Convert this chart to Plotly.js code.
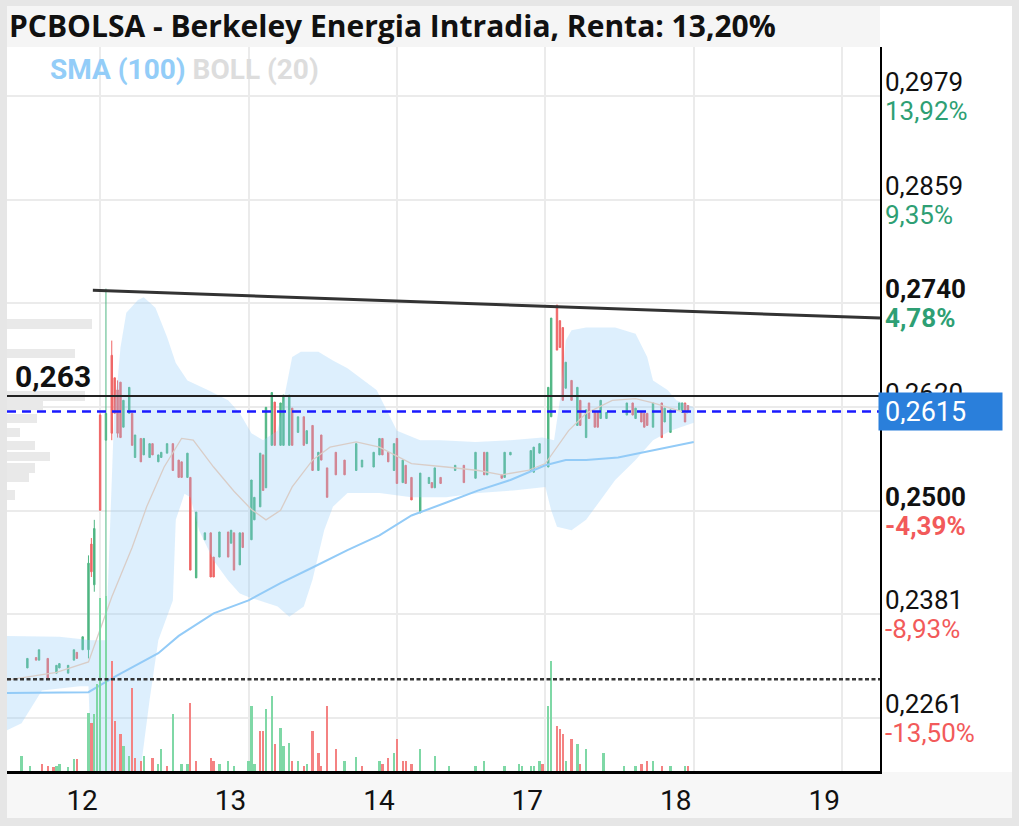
<!DOCTYPE html>
<html><head><meta charset="utf-8">
<script src="https://cdn.plot.ly/plotly-3.0.1.min.js"></script>
<style>html,body{margin:0;padding:0;background:#fff;}#chart{width:1019px;height:826px;}</style>
</head><body><div id="chart"></div>
<script>
// ---- DATA (time = 10-minute slot index, 0 = open of day 12; prices in 1/10000 EUR) ----
const dayStart  = [0, 51, 102, 153, 204, 255];
const dayLabels = ['12', '13', '14', '17', '18', '19'];

const slot   = [-25,-22,-21,-18,-15,-14,-11,-9,-8,-6,-4,-3,-2,0,2,4,5,6,7,8,10,11,12,14,15,17,18,20,21,23,25,27,28,30,31,33,36,38,39,41,44,45,46,48,49,52,53,55,56,57,59,60,62,63,65,66,68,70,71,73,75,76,78,81,84,88,90,94,96,97,99,101,102,104,105,107,110,113,114,115,117,122,125,129,132,133,138,139,141,148,149,151,154,155,157,158,159,160,162,164,165,167,168,170,171,172,174,181,183,184,186,187,188,190,193,194,196,199,200,201,202];
const openP  = [2319,2331,2328,2330,2313,2319,2313,2328,2337,2340,2340,2462,2415,2611,2582,2680,2654,2640,2649,2597,2613,2613,2562,2584,2565,2562,2578,2557,2562,2567,2578,2559,2557,2539,2539,2423,2467,2475,2447,2447,2476,2463,2475,2438,2475,2467,2490,2505,2565,2527,2576,2626,2576,2576,2576,2619,2591,2609,2578,2599,2547,2588,2550,2568,2559,2547,2551,2551,2565,2584,2568,2547,2584,2533,2553,2539,2498,2532,2533,2527,2539,2547,2553,2538,2568,2542,2542,2539,2565,2547,2545,2567,2551,2609,2738,2720,2712,2642,2651,2599,2628,2585,2625,2614,2614,2607,2607,2611,2625,2607,2614,2613,2613,2597,2625,2603,2591,2617,2614,2625,2622];
const highP  = [2330,2331,2340,2330,2322,2324,2322,2340,2337,2355,2449,2469,2490,2613,2757,2697,2654,2651,2649,2628,2643,2613,2588,2584,2584,2578,2578,2565,2568,2578,2578,2559,2557,2567,2539,2499,2475,2475,2447,2476,2476,2478,2475,2475,2475,2536,2516,2567,2565,2620,2637,2626,2625,2634,2634,2619,2609,2609,2593,2599,2568,2588,2550,2568,2559,2578,2559,2568,2584,2584,2568,2578,2584,2559,2553,2539,2544,2539,2533,2550,2539,2553,2553,2568,2568,2568,2542,2568,2568,2570,2574,2578,2643,2723,2738,2720,2712,2672,2651,2643,2628,2617,2625,2614,2614,2628,2614,2625,2625,2619,2614,2613,2613,2625,2625,2619,2617,2625,2625,2625,2622];
const lowP   = [2319,2328,2328,2307,2313,2319,2313,2328,2330,2340,2330,2424,2407,2501,2397,2582,2613,2585,2585,2597,2613,2576,2562,2557,2565,2562,2565,2557,2562,2567,2547,2539,2539,2539,2432,2423,2467,2424,2424,2447,2447,2463,2432,2438,2458,2467,2490,2505,2524,2527,2576,2576,2576,2576,2576,2576,2591,2576,2578,2547,2547,2559,2516,2542,2542,2547,2551,2551,2565,2565,2557,2547,2532,2533,2532,2513,2498,2532,2527,2527,2532,2547,2533,2538,2542,2542,2538,2539,2565,2547,2545,2567,2551,2609,2686,2689,2628,2642,2628,2599,2599,2585,2607,2597,2597,2607,2607,2611,2611,2607,2603,2597,2599,2597,2585,2603,2591,2617,2614,2603,2615];
const closeP = [2330,2328,2340,2307,2322,2324,2322,2340,2330,2355,2440,2430,2480,2501,2613,2590,2613,2590,2585,2628,2643,2576,2588,2557,2584,2578,2565,2565,2568,2578,2547,2539,2539,2567,2432,2499,2475,2424,2424,2476,2447,2478,2432,2475,2458,2536,2516,2567,2524,2620,2637,2576,2625,2634,2634,2576,2609,2576,2593,2547,2568,2559,2516,2542,2542,2578,2559,2568,2584,2565,2557,2578,2532,2559,2532,2513,2544,2539,2527,2550,2532,2553,2533,2568,2542,2568,2538,2568,2568,2570,2574,2578,2643,2723,2686,2689,2628,2672,2628,2643,2599,2617,2607,2597,2597,2628,2614,2625,2611,2619,2603,2597,2599,2625,2585,2619,2617,2625,2625,2603,2615];

// volume (relative units), slot and direction (1 = up, 0 = down)
const volSlot = [-27,-24,-20,-18,-16,-15,-14,-11,-9,-8,-4,-3,-2,-1,0,2,4,5,7,8,10,11,12,14,15,18,20,21,23,25,28,30,31,33,38,39,41,44,46,51,52,53,55,56,57,59,60,62,63,65,66,68,70,71,73,75,76,78,81,84,88,90,96,97,99,101,102,104,105,107,110,115,120,129,132,139,144,145,148,149,151,152,154,155,157,158,159,160,162,164,165,167,173,180,184,186,188,190,193,196,201,202];
const volume  = [15,5,7,5,4,5,7,4,12,12,58,48,57,87,173,175,110,50,37,25,15,83,13,10,15,13,7,22,5,57,7,7,68,10,13,10,7,10,5,10,65,7,40,40,62,75,27,43,25,28,10,10,5,7,40,18,5,65,22,10,14,5,10,7,13,18,32,10,10,7,22,15,5,5,10,5,7,5,5,5,10,7,65,110,45,42,37,10,32,27,7,22,18,5,5,7,10,10,5,5,5,5];
const volUp   = [1,1,0,0,0,1,1,1,1,0,1,0,1,1,1,1,0,0,0,1,1,0,0,0,1,0,1,1,0,1,1,1,0,0,0,0,1,1,1,1,1,1,0,0,1,1,0,1,1,1,0,1,0,1,0,0,0,0,0,1,1,0,1,0,0,1,0,0,0,0,1,1,1,1,1,1,1,1,1,1,1,0,1,1,0,0,0,1,0,1,0,1,1,1,1,0,0,1,0,1,1,0];

// Bollinger (20) upper / lower / middle, SMA (100)
const bandUpSlot = [-32,-14,-3,2,3,4,5,6,7,9,13,15,19,23,26,30,37,44,48,52,56,61,63,66,69,75,80,85,95,102,110,117,129,141,152,156,158,160,162,167,177,184,188,190,195,198,204];
const bandUp     = [2356,2355,2351,2351,2443,2547,2628,2651,2689,2729,2744,2747,2735,2701,2671,2651,2640,2628,2613,2590,2582,2593,2628,2678,2684,2684,2674,2665,2640,2593,2582,2582,2580,2582,2585,2582,2628,2697,2709,2712,2712,2705,2678,2651,2640,2628,2620];
const bandLoSlot = [-32,-27,-20,-7,-4,-3,0,5,10,14,17,20,25,26,29,31,34,39,44,48,51,61,65,70,73,77,80,85,96,107,119,130,142,153,155,157,162,167,172,177,184,190,196,204];
const bandLo     = [2247,2255,2293,2298,2298,2201,2120,2080,2100,2201,2282,2351,2397,2490,2520,2516,2478,2443,2420,2405,2401,2390,2378,2390,2421,2478,2505,2521,2521,2516,2516,2521,2524,2528,2501,2482,2478,2490,2513,2536,2559,2582,2593,2602];
const midSlot = [-32,-15,-4,4,11,16,22,26,28,32,39,46,52,57,62,66,73,79,88,96,107,119,130,138,147,153,161,167,176,184,190,202];
const mid     = [2305,2314,2326,2401,2458,2505,2551,2574,2584,2582,2551,2523,2502,2490,2501,2528,2559,2574,2580,2574,2555,2551,2547,2542,2547,2555,2593,2613,2628,2630,2625,2613];
const smaSlot = [-32,-4,4,20,27,39,51,62,73,85,96,107,119,130,141,153,160,167,178,190,204];
const sma     = [2290,2291,2307,2336,2356,2382,2397,2417,2435,2455,2472,2495,2510,2524,2536,2553,2559,2559,2562,2570,2580];

// volume-at-price profile (left)
const profPrice = [2716,2682,2633,2622,2607,2591,2576,2563,2550,2539,2519];
const profVol   = [85,68,78,36,30,13,28,43,28,22,8];

// right-axis levels (the percentage of the level under the last-price box is hidden, as in the source)
const tickPrice = [2979,2859,2740,2620,2500,2381,2261];
const tickPct   = ['13,92%','9,35%','4,78%','0,19%','-4,39%','-8,93%','-13,50%'];
const tickBold  = [false,false,true,false,true,false,false];

// drawn levels
const lastPrice   = 2615;
const levelPrice  = 2633;   // "0,263"
const dottedPrice = 2306;
const trendX = [-2.5, 268];
const trendY = [2755, 2723];

const titleText = 'PCBOLSA - Berkeley Energia Intradia, Renta: 13,20%';

// ---- helpers ----
const P = a => a.map(v => v / 10000);
const fmt = v => (v / 10000).toFixed(4).replace('.', ',');
const GREEN = '#4fb683', RED = '#ef6666';
const VGREEN = '#7fd8a6', VRED = '#f48282';
const FONT = 'Roboto, "Noto Sans", sans-serif';

// frame geometry (pixels -> paper)
const L = 7, R = 880, T = 47, B = 771;
const pxX = x => (x - L) / (R - L);
const pxY = y => (B - y) / (B - T);

const bandX = bandUpSlot.concat(bandLoSlot.slice().reverse());
const bandY = P(bandUp).concat(P(bandLo).slice().reverse());

const traces = [
  { type: 'scatter', x: bandX, y: bandY, fill: 'toself', fillcolor: 'rgba(144,202,249,0.30)',
    line: { width: 0 }, mode: 'lines', hoverinfo: 'skip', showlegend: false },
  { type: 'scatter', x: midSlot, y: P(mid), mode: 'lines', line: { color: '#d9cdc7', width: 1.3 },
    hoverinfo: 'skip', showlegend: false },
  { type: 'scatter', x: smaSlot, y: P(sma), mode: 'lines', line: { color: '#93cbf7', width: 2 },
    hoverinfo: 'skip', showlegend: false },
  { type: 'candlestick', x: slot, open: P(openP), high: P(highP), low: P(lowP), close: P(closeP),
    increasing: { line: { color: GREEN, width: 1 }, fillcolor: GREEN },
    decreasing: { line: { color: RED, width: 1 }, fillcolor: RED },
    whiskerwidth: 0, showlegend: false },
  { type: 'bar', x: volSlot, y: volume, yaxis: 'y2', width: 0.8,
    marker: { color: volUp.map(u => u ? VGREEN : VRED), line: { width: 0 } }, showlegend: false },
  { type: 'bar', orientation: 'h', x: profVol, y: P(profPrice), xaxis: 'x3', width: 0.0011,
    marker: { color: '#e9e9e9', line: { width: 0 } }, showlegend: false }
];

const annotations = [];
tickPrice.forEach((p, i) => {
  const b = tickBold[i];
  const pctColor = tickPct[i].startsWith('-') ? '#f25a5a' : '#2e9f74';
  const underBox = Math.abs(p - lastPrice) < 10;
  annotations.push({ xref: 'paper', yref: 'y', x: 1, y: p / 10000, xanchor: 'left', yanchor: 'middle',
    xshift: 3, yshift: 14, showarrow: false, text: b ? '<b>' + fmt(p) + '</b>' : fmt(p),
    font: { family: FONT, size: 26, color: '#111' } });
  if (!underBox) {
    annotations.push({ xref: 'paper', yref: 'y', x: 1, y: p / 10000, xanchor: 'left', yanchor: 'middle',
      xshift: 3, yshift: -15, showarrow: false, text: b ? '<b>' + tickPct[i] + '</b>' : tickPct[i],
      font: { family: FONT, size: 26, color: pctColor } });
  }
});
annotations.push({ xref: 'paper', yref: 'y', x: 1, y: lastPrice / 10000, xanchor: 'left', yanchor: 'middle',
  xshift: -2, showarrow: false, text: fmt(lastPrice), align: 'left', valign: 'middle',
  width: 111, height: 25, borderpad: 6, bgcolor: '#2a7fdb',
  font: { family: FONT, size: 27, color: '#ffffff' } });
annotations.push({ xref: 'paper', yref: 'y', x: pxX(13), y: levelPrice / 10000, xanchor: 'left', yanchor: 'bottom',
  yshift: 0, showarrow: false, text: '<b>' + fmt(levelPrice).slice(0, 5) + '</b>',
  font: { family: FONT, size: 30, color: '#111' } });
annotations.push({ xref: 'paper', yref: 'paper', x: pxX(48), y: pxY(70), xanchor: 'left', yanchor: 'middle',
  showarrow: false,
  text: '<b><span style="color:#93cdf8">SMA (100)</span> <span style="color:#dddddd">BOLL (20)</span></b>',
  font: { family: FONT, size: 28 } });

const shapes = [
  // frame panels
  { type: 'rect', xref: 'paper', yref: 'paper', x0: 0, x1: 1, y0: 1, y1: pxY(6), layer: 'below',
    fillcolor: '#f5f5f5', line: { width: 0 } },
  { type: 'rect', xref: 'paper', yref: 'paper', x0: 1, x1: pxX(1012), y0: pxY(773), y1: pxY(6), layer: 'below',
    fillcolor: '#ffffff', line: { width: 0 } },
  { type: 'rect', xref: 'paper', yref: 'paper', x0: 0, x1: pxX(1012), y0: pxY(818), y1: pxY(772), layer: 'below',
    fillcolor: '#f7f7f7', line: { width: 0 } },
  // levels
  { type: 'line', xref: 'paper', yref: 'y', x0: 0, x1: 1, y0: levelPrice / 10000, y1: levelPrice / 10000,
    line: { color: '#222', width: 2 } },
  { type: 'line', xref: 'paper', yref: 'y', x0: 0, x1: 1, y0: lastPrice / 10000, y1: lastPrice / 10000,
    line: { color: '#1a1aff', width: 2.5, dash: '9px,6px' } },
  { type: 'line', xref: 'paper', yref: 'y', x0: 0, x1: 1, y0: dottedPrice / 10000, y1: dottedPrice / 10000,
    line: { color: '#333', width: 2.5, dash: '4px,2.5px' } },
  { type: 'line', xref: 'x', yref: 'y', x0: trendX[0], x1: trendX[1], y0: trendY[0] / 10000, y1: trendY[1] / 10000,
    line: { color: '#333', width: 3 } }
];

const layout = {
  width: 1019, height: 826,
  margin: { l: L, r: 1019 - R, t: T, b: 826 - B, pad: 0 },
  paper_bgcolor: '#e6e6e6', plot_bgcolor: '#ffffff',
  showlegend: false, dragmode: false, bargap: 0,
  title: { text: titleText, x: 9 / 1019, xanchor: 'left', xref: 'container', y: 1 - 26 / 826, yanchor: 'middle',
    font: { family: '"Open Sans", "Noto Sans", sans-serif', size: 30, weight: 'bold', color: '#111' } },
  xaxis: { range: [-32, 268], tickmode: 'array', tickvals: dayStart, ticktext: dayLabels,
    showgrid: true, gridcolor: '#ebebeb', gridwidth: 2, zeroline: false,
    showline: true, linecolor: '#000', linewidth: 3, ticks: '',
    ticklabelshift: -18, ticklabelstandoff: 2,
    tickfont: { family: FONT, size: 28, color: '#111' }, rangeslider: { visible: false }, fixedrange: true },
  yaxis: { range: [0.2200, 0.3036], side: 'right', tickmode: 'array', tickvals: P(tickPrice),
    showticklabels: false, showgrid: true, gridcolor: '#ebebeb', gridwidth: 2, zeroline: false,
    showline: true, linecolor: '#000', linewidth: 2, ticks: '', fixedrange: true },
  yaxis2: { overlaying: 'y', range: [0, 724], visible: false, fixedrange: true },
  xaxis3: { overlaying: 'x', range: [0, 873], visible: false, fixedrange: true },
  annotations: annotations,
  shapes: shapes
};

Plotly.newPlot('chart', traces, layout, { displayModeBar: false, staticPlot: true });
</script>
</body></html>
